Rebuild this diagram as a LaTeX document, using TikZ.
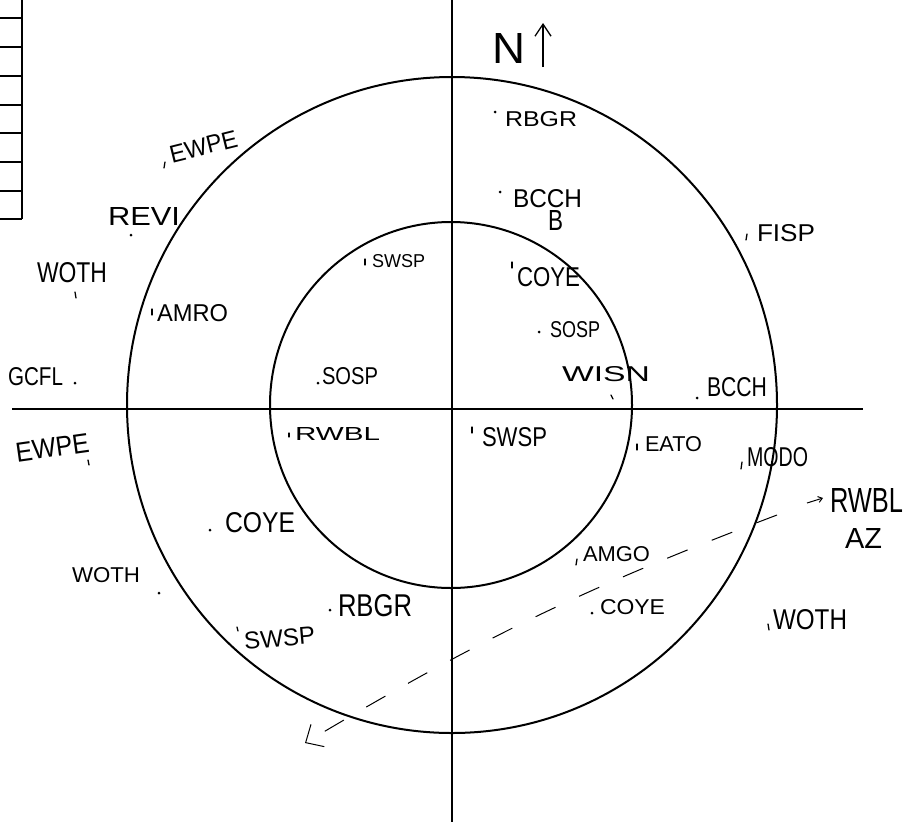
\documentclass[tikz,border=0pt]{standalone}
\usepackage{fontspec}
\setmainfont{Liberation Sans}
\usetikzlibrary{arrows.meta}
\newcommand{\hw}[3]{\resizebox{#1pt}{#2pt}{#3}}
\begin{document}
\begin{tikzpicture}[x=1pt,y=-1pt,
  lbl/.style={anchor=south west, inner sep=0pt, outer sep=0pt},
  axisline/.style={line width=2pt},
  ring/.style={line width=2pt},
  gridline/.style={line width=1.5pt},
  spot/.style={circle, fill, inner sep=0pt, minimum size=3pt},
  tickmark/.style={line width=1.3pt, line cap=round},
  flight/.style={line width=1pt, dash pattern=on 22pt off 26pt,
    -{Straight Barb[length=14pt,width=26pt,line width=1pt]}},
  northarrow/.style={line width=1.3pt, -{Straight Barb[length=12pt,width=16pt,line width=1.3pt]}}
]
\useasboundingbox (0,0) rectangle (909,825);

% table at top left
\coordinate (t0) at (22,0);
\coordinate (t1) at (22,219);
\draw[gridline] (t0) -- (t1);
\foreach \yy in {18,47,76,105,133,162,191,219}
  \draw[gridline] (0,\yy) -- (22,\yy);

% axes
\coordinate (vtop) at (452,0);
\coordinate (vbot) at (452,822);
\coordinate (hl) at (12,409);
\coordinate (hr) at (863,409);
\draw[axisline] (vtop) -- (vbot);
\draw[axisline] (hl) -- (hr);

% rings
\coordinate (ctr) at (452,405);
\draw[ring] (ctr) ellipse [x radius=325pt, y radius=328pt];
\draw[ring] (451,405) ellipse [x radius=181pt, y radius=183pt];

% north
\node[lbl] (north) at (492,63) {\hw{33}{30}{N}};
\coordinate (na) at (543,67);
\coordinate (nb) at (543,23);
\draw[northarrow] (na) -- (nb);

% labels
\node[lbl] (rbgr1) at (505,127) {\hw{72}{15}{RBGR}};
\node[lbl] (bcch1) at (513,208) {\hw{69}{18}{BCCH}};
\node[lbl] (bmark) at (548,230) {\hw{15}{20}{B}};
\node[lbl] (fisp) at (757,242) {\hw{58}{17}{FISP}};
\node[lbl] (coye1) at (517,287) {\hw{63}{19}{COYE}};
\node[lbl] (sosp1) at (550,338) {\hw{50}{16}{SOSP}};
\node[lbl] (wisn) at (562,382) {\hw{88}{15}{WISN}};
\node[lbl] (bcch2) at (707,397) {\hw{60}{19}{BCCH}};
\node[lbl] (swsp1) at (372,268) {\hw{53}{13}{SWSP}};
\node[lbl] (sosp2) at (322,385) {\hw{56}{17}{SOSP}};
\node[lbl] (rwbl1) at (295,440) {\hw{85}{13}{RWBL}};
\node[lbl] (swsp2) at (482,447) {\hw{65}{19}{SWSP}};
\node[lbl] (eato) at (645,452) {\hw{57}{15}{EATO}};
\node[lbl] (modo) at (747,467) {\hw{61}{19}{MODO}};
\node[lbl] (rwbl2) at (830,512) {\hw{73}{24}{RWBL}};
\node[lbl] (az) at (845,548) {\hw{37}{20}{AZ}};
\node[lbl] (amgo) at (583,562) {\hw{67}{15}{AMGO}};
\node[lbl] (coye2) at (600,615) {\hw{65}{15}{COYE}};
\node[lbl] (woth1) at (773,630) {\hw{74}{20}{WOTH}};
\node[lbl] (rbgr2) at (338,617) {\hw{74}{22}{RBGR}};
\node[lbl, rotate=5] (swsp3) at (245,650) {\hw{71}{17}{SWSP}};
\node[lbl] (coye3) at (225,533) {\hw{70}{20}{COYE}};
\node[lbl] (woth2) at (72,583) {\hw{68}{15}{WOTH}};
\node[lbl, rotate=8] (ewpe1) at (17,462) {\hw{74}{19}{EWPE}};
\node[lbl] (gcfl) at (8,386) {\hw{55}{18}{GCFL}};
\node[lbl] (amro) at (157,322) {\hw{71}{17}{AMRO}};
\node[lbl] (woth3) at (37,283) {\hw{70}{20}{WOTH}};
\node[lbl] (revi) at (108,225) {\hw{72}{18}{REVI}};
\node[lbl, rotate=14] (ewpe2) at (172,163) {\hw{69}{17}{EWPE}};

% dots
\foreach \px/\py in {495/112, 500/192, 539/332, 697/398, 318/383, 592/613,
  330/610, 210/530, 159/593, 75/383, 131/235}
  \node[spot] at (\px,\py) {};
% ticks
\foreach \ax/\ay/\bx/\by in {747/234/746/240, 512/262/512/268, 611/395/613/399,
  365/259/365/265, 289/433/289/437, 472/427/472/433, 637/444/637/450,
  742/462/741/469, 577/559/576/565, 768/624/769/630, 237/627/238/631,
  88/460/89/465, 152/309/152/315, 75/292/76/298, 165/162/164/168}
  \draw[tickmark] (\ax,\ay) -- (\bx,\by);

% small arrow before RWBL
\coordinate (ra) at (807,503);
\coordinate (rb) at (823,498);
\draw[line width=1pt, -{Straight Barb[length=4pt,width=6pt]}] (ra) -- (rb);

% dashed flight path
\coordinate (fs) at (777,515);
\coordinate (fe) at (305,743);
\draw[flight] (fs) to[bend right=5] (fe);
\end{tikzpicture}
\end{document}
